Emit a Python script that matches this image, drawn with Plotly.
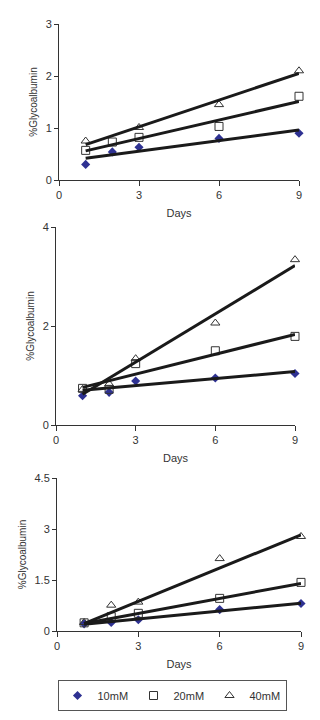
import plotly.graph_objects as go

days = [1, 2, 3, 6, 9]
series_names = ["10mM", "20mM", "40mM"]

# Panel 1
p1_10 = [0.30, 0.54, 0.63, 0.80, 0.90]
p1_20 = [0.57, 0.73, 0.82, 1.03, 1.61]
p1_40 = [0.75, None, 1.01, 1.45, 2.10]
# Panel 2
p2_10 = [0.59, 0.66, 0.89, 0.95, 1.04]
p2_20 = [0.74, 0.72, 1.24, 1.50, 1.79]
p2_40 = [0.72, 0.83, 1.34, 2.06, 3.34]
# Panel 3
p3_10 = [0.21, 0.25, 0.33, 0.63, 0.81]
p3_20 = [0.24, 0.42, 0.52, 0.96, 1.43]
p3_40 = [0.25, 0.76, 0.85, 2.13, 2.78]

# Linear trendline values at day 1 and day 9
trend_days = [1, 9]
t1_10 = [0.42, 0.96]
t1_20 = [0.56, 1.51]
t1_40 = [0.68, 2.05]
t2_10 = [0.70, 1.08]
t2_20 = [0.76, 1.83]
t2_40 = [0.62, 3.22]
t3_10 = [0.20, 0.82]
t3_20 = [0.22, 1.40]
t3_40 = [0.22, 2.83]

x_ticks = [0, 3, 6, 9]
y_ticks = [[0, 1, 2, 3], [0, 2, 4], [0, 1.5, 3, 4.5]]
y_ticklabels = [["0", "1", "2", "3"], ["0", "2", "4"], ["0", "1.5", "3", "4.5"]]
y_max = [3, 4, 4.5]

panels = [
    ([p1_10, p1_20, p1_40], [t1_10, t1_20, t1_40]),
    ([p2_10, p2_20, p2_40], [t2_10, t2_20, t2_40]),
    ([p3_10, p3_20, p3_40], [t3_10, t3_20, t3_40]),
]

OFF = 8  # default page body margin
W, H = 320 - OFF, 720 - OFF
# page-pixel geometry of each panel: (x0, x9, ytop, ybottom)
geom = [(59, 299, 24, 180), (56, 295, 227, 425), (57, 301, 478, 631)]

marker_styles = [
    dict(symbol="diamond", size=7, color="#2E3192", line=dict(width=0)),
    dict(symbol="square-open", size=8, color="#333333", line=dict(width=1)),
    dict(symbol="triangle-up-open", size=8, color="#333333", line=dict(width=1)),
]

FONT = "Liberation Sans, Arial, sans-serif"
fig = go.Figure()

for i, (vals, trends) in enumerate(panels):
    xa = "x" if i == 0 else f"x{i+1}"
    ya = "y" if i == 0 else f"y{i+1}"
    for j in range(3):
        fig.add_trace(go.Scatter(
            x=days, y=vals[j], mode="markers", name=series_names[j],
            marker=marker_styles[j], xaxis=xa, yaxis=ya, cliponaxis=False,
            showlegend=(i == 2), legendgroup=series_names[j],
        ))
    for j in range(3):
        fig.add_trace(go.Scatter(
            x=trend_days, y=trends[j], mode="lines",
            line=dict(color="#1a1a1a", width=3), xaxis=xa, yaxis=ya,
            cliponaxis=False, showlegend=False, hoverinfo="skip",
        ))

layout = dict(
    width=W, height=H, margin=dict(l=0, r=0, t=0, b=0, autoexpand=False),
    paper_bgcolor="white", plot_bgcolor="white",
    font=dict(family=FONT, size=11, color="#333333"),
    legend=dict(
        orientation="h", x=(172 - OFF) / W, xanchor="center",
        y=1 - (680 - OFF) / H, yanchor="top",
        bordercolor="#555555", borderwidth=1, font=dict(size=11, color="#333333"),
        itemwidth=30, entrywidth=31, tracegroupgap=0,
    ),
)

for i, (x0, x9, yt, yb) in enumerate(geom):
    xk = "xaxis" if i == 0 else f"xaxis{i+1}"
    yk = "yaxis" if i == 0 else f"yaxis{i+1}"
    ya = "y" if i == 0 else f"y{i+1}"
    xa = "x" if i == 0 else f"x{i+1}"
    layout[xk] = dict(
        domain=[(x0 - OFF) / W, (x9 - OFF) / W], range=[0, 9], anchor=ya, automargin=False,
        tickvals=x_ticks, ticks="outside", ticklen=5, tickcolor="#333333",
        showline=True, linecolor="#333333", linewidth=1, showgrid=False, zeroline=False,
        tickfont=dict(size=11, color="#333333"),
        title=dict(text="Days", font=dict(size=11, color="#333333"), standoff=9),
    )
    layout[yk] = dict(
        domain=[1 - (yb - OFF) / H, 1 - (yt - OFF) / H], range=[0, y_max[i]], anchor=xa,
        automargin=False,
        tickvals=y_ticks[i], ticktext=y_ticklabels[i], ticks="outside", ticklen=4,
        tickcolor="#333333", showline=True, linecolor="#333333", linewidth=1,
        showgrid=False, zeroline=False, tickfont=dict(size=11, color="#333333"),
        title=dict(text="%Glycoalbumin", font=dict(size=10, color="#333333"), standoff=6),
    )

fig.update_layout(**layout)
fig.write_html("out.html")
